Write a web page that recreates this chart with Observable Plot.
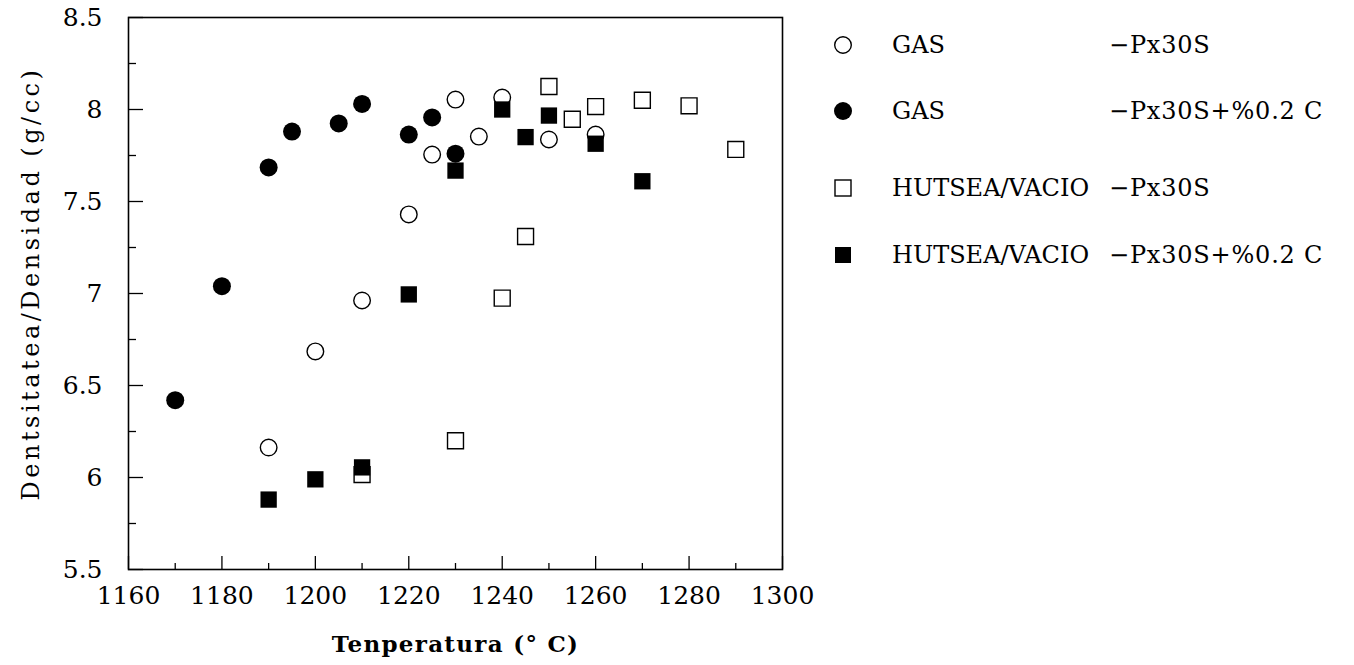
<!DOCTYPE html>
<html><head><meta charset="utf-8">
<script src="https://cdn.jsdelivr.net/npm/d3@7"></script>
<script src="https://cdn.jsdelivr.net/npm/@observablehq/plot@0.6"></script>
<style>
body{margin:0;background:#fff;}
#wrap{position:relative;width:1354px;height:665px;font-family:"DejaVu Serif",serif;overflow:hidden;}
.row{position:absolute;left:0;height:30px;width:560px;font-size:24px;line-height:24px;color:#000;white-space:nowrap;}
.row svg{position:absolute;left:0;top:0;}
.row .c1{position:absolute;left:72px;}
.row .c2{position:absolute;left:289px;letter-spacing:0.8px;}
</style></head><body><div id="wrap"></div>
<script>
// GAS -Px30S (open circles)
const gasT = [1190, 1200, 1210, 1220, 1225, 1230, 1235, 1240, 1250, 1260];
const gasD = [6.163, 6.685, 6.962, 7.43, 7.755, 8.054, 7.853, 8.065, 7.837, 7.864];
// GAS -Px30S+%0.2 C (filled circles)
const gasCT = [1170, 1180, 1190, 1195, 1205, 1210, 1220, 1225, 1230];
const gasCD = [6.42, 7.04, 7.685, 7.88, 7.924, 8.03, 7.864, 7.957, 7.76];
// HUTSEA/VACIO -Px30S (open squares)
const vacT = [1210, 1230, 1240, 1245, 1250, 1255, 1260, 1270, 1280, 1290];
const vacD = [6.016, 6.2, 6.975, 7.31, 8.125, 7.947, 8.016, 8.05, 8.02, 7.783];
// HUTSEA/VACIO -Px30S+%0.2 C (filled squares)
const vacCT = [1190, 1200, 1210, 1220, 1230, 1240, 1245, 1250, 1260, 1270];
const vacCD = [5.88, 5.99, 6.055, 6.995, 7.668, 8.0, 7.85, 7.967, 7.814, 7.61];

const seriesA = ["GAS", "GAS", "HUTSEA/VACIO", "HUTSEA/VACIO"];
const seriesB = ["\u2212Px30S", "\u2212Px30S+%0.2 C", "\u2212Px30S", "\u2212Px30S+%0.2 C"];

const xMajor = [1160, 1180, 1200, 1220, 1240, 1260, 1280, 1300];
const xLabels = ["1160", "1180", "1200", "1220", "1240", "1260", "1280", "1300"];
const xMinor = [1170, 1190, 1210, 1230, 1250, 1270, 1290];
const yMajor = [5.5, 6, 6.5, 7, 7.5, 8, 8.5];
const yLabels = ["5.5", "6", "6.5", "7", "7.5", "8", "8.5"];
const yMinor = [5.75, 6.25, 6.75, 7.25, 7.75, 8.25];

const xTitle = "Tenperatura (\u00b0 C)";
const yTitle = "Dentsitatea/Densidad (g/cc)";

const rows = (ts, ds) => ts.map((t, i) => ({t, d: ds[i]}));

const W = 1354, H = 665, mL = 128, mR = 572, mT = 17, mB = 96;
const pw = W - mL - mR, ph = H - mT - mB;

const chart = Plot.plot({
  width: W, height: H,
  marginLeft: mL, marginRight: mR, marginTop: mT, marginBottom: mB,
  style: {fontFamily: '"DejaVu Serif", serif', background: "#fff", color: "#000"},
  x: {domain: [1160, 1300]},
  y: {domain: [5.5, 8.5]},
  marks: [
    Plot.axisX({ticks: xMajor, tickSize: 0, tickPadding: 17, fontSize: 25, label: null,
      tickFormat: d => xLabels[xMajor.indexOf(d)]}),
    Plot.axisY({ticks: yMajor, tickSize: 0, tickPadding: 26, fontSize: 25, label: null,
      tickFormat: d => yLabels[yMajor.indexOf(d)]}),
    Plot.tickY(yMajor, {y: d => d, insetRight: pw - 15, stroke: "#000", strokeWidth: 1.3}),
    Plot.tickY(yMinor, {y: d => d, insetRight: pw - 8, stroke: "#000", strokeWidth: 1.3}),
    Plot.tickX(xMajor, {x: d => d, insetTop: ph - 13, stroke: "#000", strokeWidth: 1.3}),
    Plot.tickX(xMinor, {x: d => d, insetTop: ph - 6, stroke: "#000", strokeWidth: 1.3}),
    Plot.frame({stroke: "#000", strokeWidth: 1.6}),
    Plot.text([xTitle], {frameAnchor: "bottom", lineAnchor: "bottom", textAnchor: "middle", dy: 82, fontSize: 23, fontWeight: "bold"}),
    Plot.text([yTitle], {frameAnchor: "left", lineAnchor: "middle", textAnchor: "middle", rotate: -90, dx: -97, dy: -10, fontSize: 24}),
    Plot.dot(rows(gasT, gasD), {x: "t", y: "d", symbol: "circle", r: 8.3, fill: "#fff", stroke: "#000", strokeWidth: 1.4}),
    Plot.dot(rows(gasCT, gasCD), {x: "t", y: "d", symbol: "circle", r: 9, fill: "#000", stroke: "none"}),
    Plot.dot(rows(vacT, vacD), {x: "t", y: "d", symbol: "square", r: 9, fill: "#fff", stroke: "#000", strokeWidth: 1.4}),
    Plot.dot(rows(vacCT, vacCD), {x: "t", y: "d", symbol: "square", r: 9.2, fill: "#000", stroke: "none"})
  ]
});

const wrap = document.getElementById("wrap");
wrap.appendChild(chart);
d3.select(chart).selectAll("text").each(function() {
  const t = this.textContent;
  if (t === yTitle) this.style.letterSpacing = "3.5px";
  if (t === xTitle) this.style.letterSpacing = "1.3px";
});

// legend
const legTops = [30, 96, 173, 240];
const markers = [
  '<circle cx="23" cy="15" r="8.3" fill="#fff" stroke="#000" stroke-width="1.4"/>',
  '<circle cx="23" cy="15" r="9" fill="#000"/>',
  '<rect x="15" y="7" width="16" height="16" fill="#fff" stroke="#000" stroke-width="1.4"/>',
  '<rect x="15" y="7" width="16" height="16" fill="#000"/>'
];
seriesA.forEach((a, i) => {
  const r = document.createElement("div");
  r.className = "row";
  r.style.left = "820px";
  r.style.top = legTops[i] + "px";
  r.innerHTML = `<svg width="46" height="30">${markers[i]}</svg><span class="c1" style="top:3px">${a}</span><span class="c2" style="top:3px">${seriesB[i]}</span>`;
  wrap.appendChild(r);
});
</script>
</body></html>
